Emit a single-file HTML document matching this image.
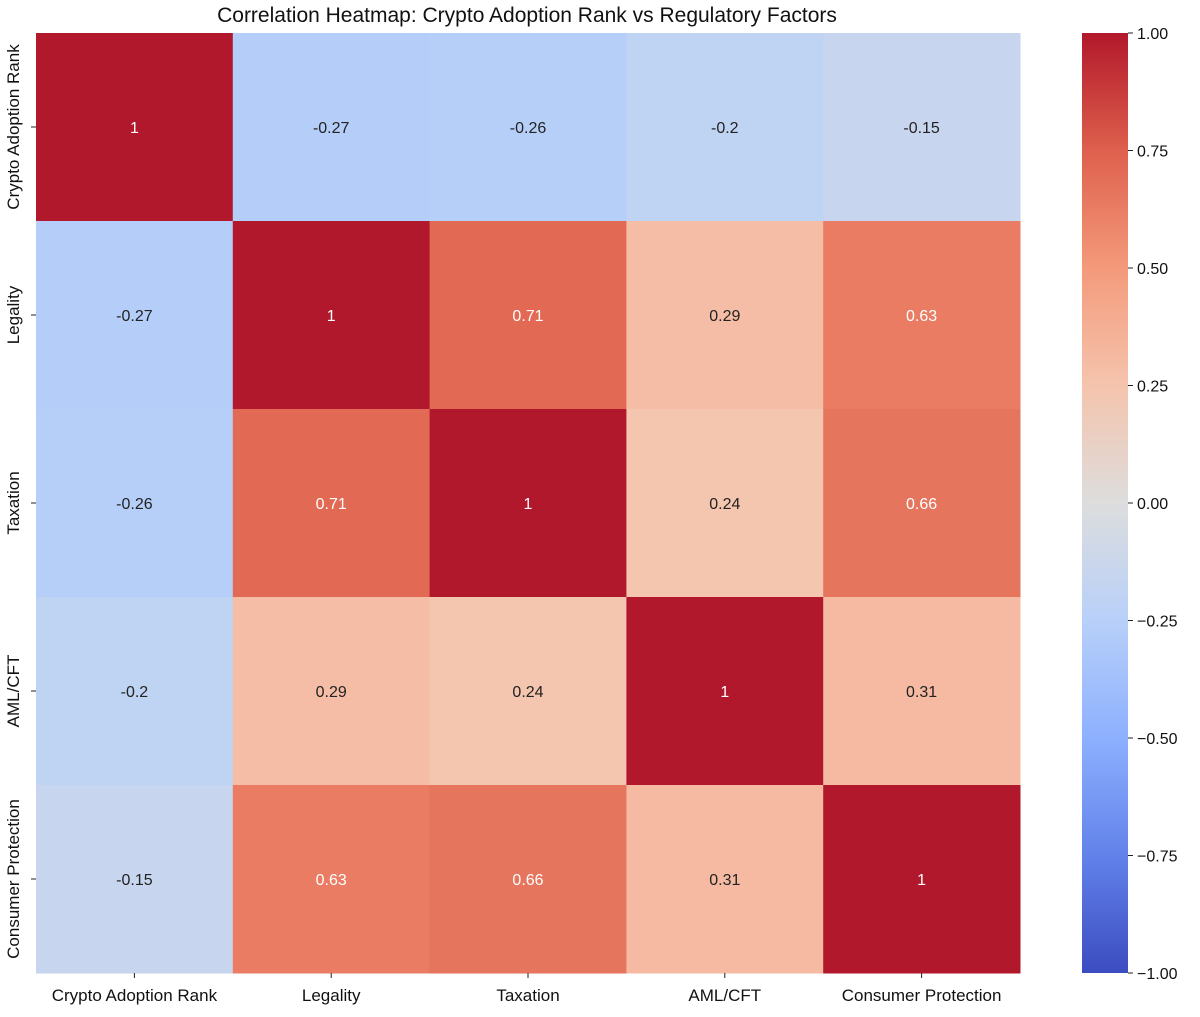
<!DOCTYPE html>
<html><head><meta charset="utf-8"><style>
body{margin:0;background:#fff;font-family:"Liberation Sans","DejaVu Sans",sans-serif;}
</style></head><body>
<svg id="chart" width="1200" height="1012" xmlns="http://www.w3.org/2000/svg">
<defs><linearGradient id="cbg" x1="0" y1="1" x2="0" y2="0"></linearGradient></defs>
<text x="527" y="22" font-size="21" text-anchor="middle" fill="#111">Correlation Heatmap: Crypto Adoption Rank vs Regulatory Factors</text>
<g id="cells"></g><g id="ticks"></g>
<rect x="1082" y="33" width="46" height="940" fill="url(#cbg)"/>
<g id="cbticks"></g>
</svg>
<script>
const labels = ["Crypto Adoption Rank","Legality","Taxation","AML/CFT","Consumer Protection"];
const row0 = [1,-0.27,-0.26,-0.2,-0.15];
const row1 = [-0.27,1,0.71,0.29,0.63];
const row2 = [-0.26,0.71,1,0.24,0.66];
const row3 = [-0.2,0.29,0.24,1,0.31];
const row4 = [-0.15,0.63,0.66,0.31,1];
const matrix = [row0,row1,row2,row3,row4];
const cbTicks = [1,0.75,0.5,0.25,0,-0.25,-0.5,-0.75,-1];
const cbLabels = ["1.00","0.75","0.50","0.25","0.00","\u22120.25","\u22120.50","\u22120.75","\u22121.00"];
const NS="http://www.w3.org/2000/svg";
const X0=36,X1=1020,Y0=33,Y1=973,n=labels.length;
const cw=(X1-X0)/n, ch=(Y1-Y0)/n;
const xs=i=>X0+i*cw, ys=i=>Y0+i*ch;
const cbY=v=>Y1-(v+1)/2*(Y1-Y0);
const stops=[[0,[59,76,192]],[0.125,[98,130,234]],[0.25,[141,176,254]],[0.375,[184,208,249]],[0.5,[221,221,221]],[0.625,[245,196,173]],[0.75,[244,154,123]],[0.875,[222,96,77]],[1,[178,24,43]]];
function cmap(v){const t=(v+1)/2;for(let i=1;i<stops.length;i++){if(t<=stops[i][0]){const a=stops[i-1],b=stops[i],f=(t-a[0])/(b[0]-a[0]);return `rgb(${a[1].map((c,k)=>Math.round(c+(b[1][k]-c)*f)).join(',')})`;}}return 'rgb(178,24,43)';}
function mk(t,a,p){const e=document.createElementNS(NS,t);for(const k in a)e.setAttribute(k,a[k]);p.appendChild(e);return e;}
const g=document.getElementById('cells'),tk=document.getElementById('ticks');
matrix.forEach((row,r)=>row.forEach((v,c)=>{
 const rc=mk('rect',{x:xs(c),y:ys(r),width:cw+0.5,height:ch+0.5,fill:cmap(v)},g);
 
 
 const t=mk('text',{x:xs(c)+cw/2,y:ys(r)+ch/2+6,'font-size':16,'text-anchor':'middle',fill:Math.abs(v)>0.5?'#fff':'#222'},g);
 t.textContent=String(v);
 
 
}));
labels.forEach((l,i)=>{
 mk('line',{x1:xs(i)+cw/2,x2:xs(i)+cw/2,y1:Y1,y2:Y1+5,stroke:'#222'},tk);
 const t=mk('text',{x:xs(i)+cw/2,y:1001,'font-size':17,'text-anchor':'middle',fill:'#111'},tk);t.textContent=l;
 
 
 mk('line',{x1:X0-5,x2:X0,y1:ys(i)+ch/2,y2:ys(i)+ch/2,stroke:'#222'},tk);
 const y=ys(i)+ch/2;
 const t2=mk('text',{x:19,y:y,'font-size':17,'text-anchor':'middle',fill:'#111',transform:`rotate(-90 19 ${y})`},tk);t2.textContent=l;
 
 
});
const gr=document.getElementById('cbg');
stops.forEach(s=>mk('stop',{offset:s[0],'stop-color':`rgb(${s[1].join(',')})`},gr));
const cb=document.getElementById('cbticks');
cbTicks.forEach((v,i)=>{
 mk('line',{x1:1128,x2:1133,y1:cbY(v),y2:cbY(v),stroke:'#222'},cb);
 const t=mk('text',{x:1137,y:cbY(v)+6,'font-size':16,fill:'#111'},cb);t.textContent=cbLabels[i];
 
 
});
</script>
</body></html>
